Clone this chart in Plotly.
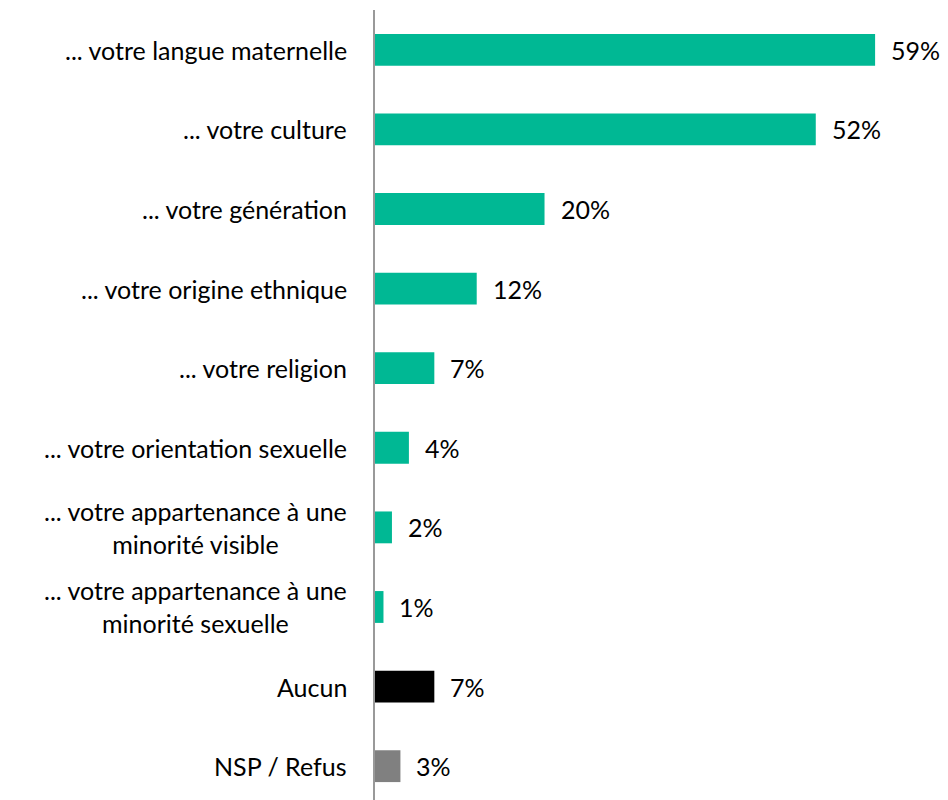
import plotly.graph_objects as go

categories = [
    "... votre langue maternelle",
    "... votre culture",
    "... votre génération",
    "... votre origine ethnique",
    "... votre religion",
    "... votre orientation sexuelle",
    "... votre appartenance à une<br>minorité visible",
    "... votre appartenance à une<br>minorité sexuelle",
    "Aucun",
    "NSP / Refus",
]
values = [59, 52, 20, 12, 7, 4, 2, 1, 7, 3]
value_labels = ["59%", "52%", "20%", "12%", "7%", "4%", "2%", "1%", "7%", "3%"]
colors = ["#00B894"] * 8 + ["#000000", "#808080"]

FONT = "Lato"
FS = 25

fig = go.Figure()
fig.add_trace(go.Bar(
    y=list(range(len(categories))),
    x=values,
    orientation="h",
    marker=dict(color=colors, line=dict(width=0)),
    hoverinfo="skip",
))

annotations = []
for i, c in enumerate(categories):
    annotations.append(dict(
        x=0, xref="paper", xanchor="right", xshift=-26,
        y=i, yref="y", yanchor="middle",
        text=c, showarrow=False, align="center",
        font=dict(family=FONT, size=FS, color="#000000"),
    ))
for i, (v, t) in enumerate(zip(values, value_labels)):
    annotations.append(dict(
        x=v, xref="x", xanchor="left", xshift=14,
        y=i, yref="y", yanchor="middle",
        text=t, showarrow=False,
        font=dict(family=FONT, size=FS, color="#000000"),
    ))

fig.update_layout(
    width=940, height=792,
    margin=dict(l=367, r=0, t=2, b=0),
    paper_bgcolor="white", plot_bgcolor="white",
    bargap=0.6,
    showlegend=False,
    annotations=annotations,
)
fig.update_xaxes(range=[0, 67.6], visible=False, fixedrange=True)
fig.update_yaxes(
    range=[9.425, -0.5],
    showticklabels=False, ticks="",
    showgrid=False, zeroline=False,
    showline=True, linecolor="#999999", linewidth=1.5,
)

fig.write_html("out.html")
